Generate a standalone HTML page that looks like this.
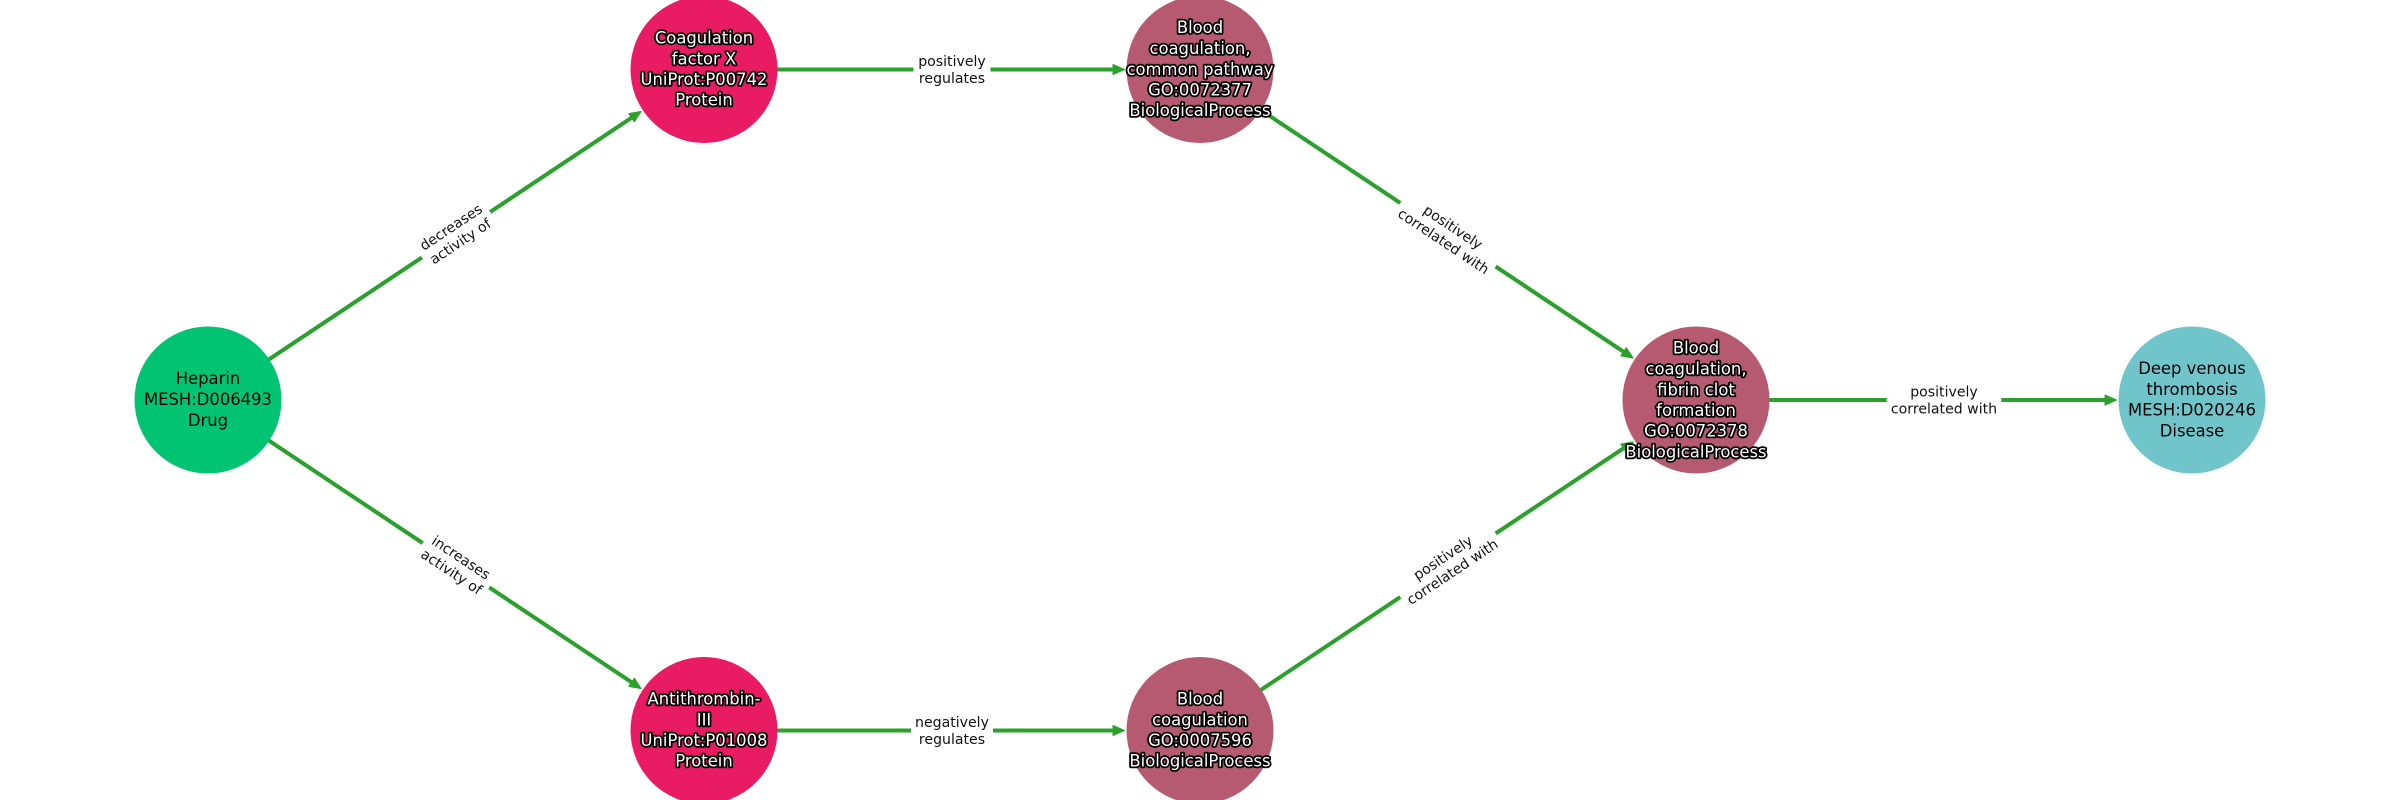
<!DOCTYPE html>
<html><head><meta charset="utf-8"><style>
html,body{margin:0;padding:0;background:#fff}
svg{display:block}
text{font-family:"DejaVu Sans","Liberation Sans",sans-serif;text-anchor:middle}
.n{font-size:16.4px;fill:#000}
.o{font-size:16.4px;fill:#fff;stroke:#000;stroke-width:3.6px;paint-order:stroke;stroke-linejoin:round}
.e{font-size:14.1px;fill:#111}
.l{stroke:#2ca02c;stroke-width:4;fill:none}
.h{fill:#2ca02c;stroke:#2ca02c;stroke-width:1;stroke-linejoin:round}
</style></head><body>
<svg width="2400" height="800" viewBox="0 0 2400 800" xmlns="http://www.w3.org/2000/svg">
<rect width="2400" height="800" fill="#fff"/>
<g transform="translate(208 400) rotate(-33.68)"><line class="l" x1="70" x2="510" y1="0" y2="0"/><polygon class="h" points="520.5,0 509,-5 509,5"/><rect x="257" y="-20" width="82" height="40" fill="#fff"/></g>
<g transform="translate(208 400) rotate(33.68)"><line class="l" x1="70" x2="510" y1="0" y2="0"/><polygon class="h" points="520.5,0 509,-5 509,5"/><rect x="258" y="-20" width="80" height="40" fill="#fff"/></g>
<g transform="translate(704 69.5)"><line class="l" x1="70" x2="412" y1="0" y2="0"/><polygon class="h" points="420.5,0 409,-5 409,5"/><rect x="209.500" y="-20" width="77" height="40" fill="#fff"/></g>
<g transform="translate(704 730.5)"><line class="l" x1="70" x2="412" y1="0" y2="0"/><polygon class="h" points="420.5,0 409,-5 409,5"/><rect x="207" y="-20" width="82" height="40" fill="#fff"/></g>
<g transform="translate(1200 69.5) rotate(33.68)"><line class="l" x1="70" x2="510" y1="0" y2="0"/><polygon class="h" points="520.5,0 509,-5 509,5"/><rect x="240.750" y="-20" width="114.5" height="40" fill="#fff"/></g>
<g transform="translate(1200 730.5) rotate(-33.68)"><line class="l" x1="70" x2="510" y1="0" y2="0"/><polygon class="h" points="520.5,0 509,-5 509,5"/><rect x="240.750" y="-20" width="114.5" height="40" fill="#fff"/></g>
<g transform="translate(1696 400)"><line class="l" x1="70" x2="412" y1="0" y2="0"/><polygon class="h" points="420.5,0 409,-5 409,5"/><rect x="190.750" y="-20" width="114.5" height="40" fill="#fff"/></g>

<circle cx="208" cy="400" r="73.500" fill="#00c471"/>
<circle cx="704" cy="69.500" r="73.500" fill="#e91b63"/>
<circle cx="704" cy="730.500" r="73.500" fill="#e91b63"/>
<circle cx="1200" cy="69.500" r="73.500" fill="#b65a72"/>
<circle cx="1200" cy="730.500" r="73.500" fill="#b65a72"/>
<circle cx="1696" cy="400" r="73.500" fill="#b65a72"/>
<circle cx="2192" cy="400" r="73.500" fill="#70c5cb"/>

<g transform="rotate(-33.68 456 234.750)"><text class="e" x="456" y="230.500">decreases</text><text class="e" x="456" y="247.500">activity of</text></g>
<g transform="rotate(33.68 456 565.250)"><text class="e" x="456" y="561">increases</text><text class="e" x="456" y="578">activity of</text></g>
<text class="e" x="952" y="66">positively</text><text class="e" x="952" y="83">regulates</text>
<text class="e" x="952" y="727">negatively</text><text class="e" x="952" y="744">regulates</text>
<g transform="rotate(33.68 1448 234.750)"><text class="e" x="1448" y="230.500">positively</text><text class="e" x="1448" y="247.500">correlated with</text></g>
<g transform="rotate(-33.68 1448 565.250)"><text class="e" x="1448" y="561">positively</text><text class="e" x="1448" y="578">correlated with</text></g>
<text class="e" x="1944" y="396.500">positively</text><text class="e" x="1944" y="413.500">correlated with</text>

<text class="n" x="208" y="384">Heparin</text><text class="n" x="208" y="405">MESH:D006493</text><text class="n" x="208" y="426">Drug</text>

<text class="o" x="704" y="43.500">Coagulation</text><text class="o" x="704" y="64.500">factor X</text><text class="o" x="704" y="85">UniProt:P00742</text><text class="o" x="704" y="105.500">Protein</text>

<text class="o" x="704" y="704.500">Antithrombin-</text><text class="o" x="704" y="725.500">III</text><text class="o" x="704" y="746">UniProt:P01008</text><text class="o" x="704" y="766.500">Protein</text>

<text class="o" x="1200" y="33">Blood</text><text class="o" x="1200" y="54">coagulation,</text><text class="o" x="1200" y="75">common pathway</text><text class="o" x="1200" y="95.500">GO:0072377</text><text class="o" x="1200" y="116">BiologicalProcess</text>

<text class="o" x="1200" y="704.500">Blood</text><text class="o" x="1200" y="725.500">coagulation</text><text class="o" x="1200" y="746">GO:0007596</text><text class="o" x="1200" y="766.500">BiologicalProcess</text>

<text class="o" x="1696" y="353.500">Blood</text><text class="o" x="1696" y="374.500">coagulation,</text><text class="o" x="1696" y="395.500">fibrin clot</text><text class="o" x="1696" y="416">formation</text><text class="o" x="1696" y="436.500">GO:0072378</text><text class="o" x="1696" y="457.500">BiologicalProcess</text>

<text class="n" x="2192" y="374">Deep venous</text><text class="n" x="2192" y="395">thrombosis</text><text class="n" x="2192" y="415.500">MESH:D020246</text><text class="n" x="2192" y="436.500">Disease</text>
</svg>
</body></html>
